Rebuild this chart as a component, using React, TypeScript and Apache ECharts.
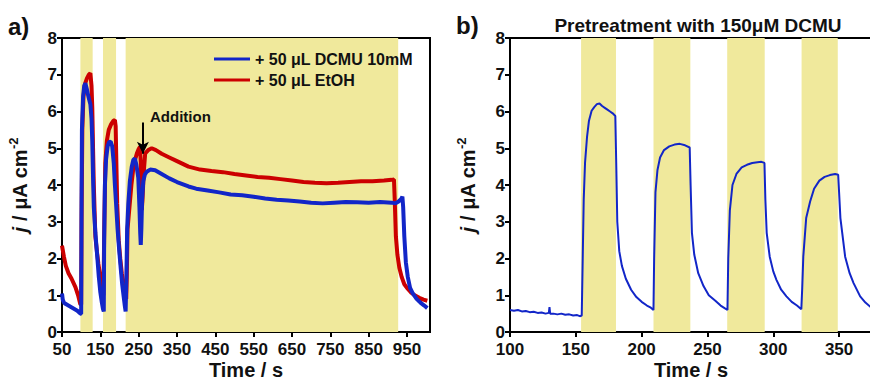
import React, { useEffect, useRef } from "react";
import * as echarts from "echarts";

// ---- Panel a) data ----
const dcmuTime = [50, 52, 55, 60, 70, 80, 90, 98, 100, 101, 102, 105, 108, 111, 115, 119, 124, 127, 129, 131, 133, 137, 142, 146, 150, 154, 157, 159, 160, 162, 165, 169, 173, 177, 181, 185, 188, 191, 195, 199, 203, 207, 211, 214, 216, 218, 220, 223, 227, 232, 236, 240, 244, 249, 252, 254, 255.5, 257, 259, 262, 266, 271, 280, 293, 310, 330, 350, 380, 400, 430, 460, 490, 520, 550, 580, 610, 640, 670, 700, 730, 760, 790, 820, 850, 880, 910, 920, 928, 935, 938, 940, 943, 947, 952, 958, 965, 975, 985, 995, 1003];
const dcmuValues = [1.05, 0.88, 0.8, 0.76, 0.7, 0.64, 0.58, 0.5, 0.5, 3.5, 5.5, 6.4, 6.7, 6.77, 6.6, 6.4, 6.2, 5.8, 5.2, 4.2, 3.4, 2.7, 2.05, 1.5, 1.08, 0.8, 0.62, 0.56, 2.5, 4.0, 4.7, 5.05, 5.17, 5.18, 5.05, 4.6, 4.0, 3.5, 2.8, 2.25, 1.75, 1.3, 0.95, 0.7, 0.56, 1.5, 2.8, 3.5, 4.1, 4.5, 4.68, 4.72, 4.55, 4.2, 3.4, 2.7, 2.37, 2.8, 3.6, 4.1, 4.28, 4.36, 4.42, 4.4, 4.3, 4.18, 4.08, 3.96, 3.9, 3.85, 3.8, 3.74, 3.72, 3.68, 3.63, 3.6, 3.58, 3.55, 3.52, 3.5, 3.52, 3.54, 3.53, 3.52, 3.54, 3.52, 3.5, 3.55, 3.62, 3.68, 3.4, 2.6, 1.9, 1.5, 1.2, 1.05, 0.9, 0.8, 0.72, 0.65];

const etohTime = [50, 55, 60, 67, 75, 85, 92, 98, 100, 101, 103, 106, 110, 115, 120, 124, 127, 129, 131, 133, 137, 141, 145, 150, 154, 158, 159, 160.5, 163, 167, 172, 178, 184, 188, 190, 192, 194, 198, 202, 206, 210, 215, 217.5, 219, 221, 226, 231, 236, 241, 246, 250, 253.5, 255.5, 257, 258, 260, 263, 267, 275, 284, 295, 310, 330, 350, 380, 410, 440, 470, 500, 530, 560, 590, 620, 650, 680, 710, 740, 770, 800, 830, 860, 890, 910, 916, 918, 921, 925, 930, 936, 943, 950, 960, 970, 982, 993, 1003];
const etohValues = [2.35, 2.05, 1.8, 1.6, 1.45, 1.22, 1.0, 0.75, 0.75, 3.0, 5.5, 6.4, 6.75, 6.9, 7.0, 7.04, 6.7, 6.1, 5.0, 4.0, 2.6, 2.2, 1.85, 1.5, 1.2, 1.0, 1.0, 3.0, 4.6, 5.2, 5.5, 5.65, 5.75, 5.77, 5.6, 4.5, 3.5, 2.5, 2.0, 1.6, 1.3, 1.0, 0.9, 1.5, 2.8, 3.4, 4.0, 4.45, 4.7, 4.88, 4.98, 5.04, 4.6, 3.8, 3.32, 3.6, 4.3, 4.86, 4.95, 5.0, 4.95, 4.85, 4.75, 4.65, 4.5, 4.42, 4.38, 4.35, 4.3, 4.26, 4.22, 4.2, 4.16, 4.12, 4.08, 4.06, 4.05, 4.06, 4.08, 4.1, 4.1, 4.12, 4.14, 4.15, 3.6, 2.6, 2.1, 1.75, 1.5, 1.3, 1.2, 1.08, 1.0, 0.93, 0.88, 0.85];

const lightA = [[98, 130], [157, 191], [216, 927]];

// ---- Panel b) data ----
const preTime = [100, 103, 106, 109, 112, 115, 118, 121, 124, 127, 129.5, 130, 130.5, 133, 136, 139, 142, 145, 148, 151, 153, 154.5, 155, 156, 157, 158.5, 160, 162, 164, 166, 168, 170, 172, 174, 176, 178, 180, 180.7, 181.5, 183, 185, 188, 192, 196, 200, 204, 207, 209, 209.5, 210.5, 212, 214, 217, 221, 225, 229, 233, 236.5, 237.2, 238.2, 240, 243, 247, 251, 256, 260, 263, 265.2, 265.8, 267, 269, 272, 276, 280, 284, 288, 291, 293.3, 294, 295, 297.3, 300, 302.4, 306, 310, 314, 318, 321.3, 322, 322.8, 325, 328, 331, 335, 339, 343, 347, 349.3, 350, 351, 354.6, 358, 361, 366, 370, 374, 376];
const preValues = [0.6, 0.58, 0.6, 0.56, 0.57, 0.54, 0.55, 0.52, 0.53, 0.5, 0.52, 0.68, 0.5, 0.5, 0.48, 0.5, 0.47, 0.48, 0.45, 0.46, 0.43, 0.45, 1.5, 3.6, 4.6, 5.3, 5.75, 6.02, 6.12, 6.2, 6.22, 6.15, 6.1, 6.05, 6.0, 5.95, 5.88, 4.6, 3.0, 2.2, 1.8, 1.45, 1.15, 0.95, 0.82, 0.72, 0.66, 0.6, 2.0, 3.8, 4.4, 4.75, 4.95, 5.05, 5.1, 5.12, 5.08, 5.02, 4.0, 2.7, 2.1, 1.6, 1.25, 1.0, 0.85, 0.72, 0.65, 0.6, 2.0, 3.3, 4.0, 4.3, 4.48, 4.55, 4.6, 4.62, 4.63, 4.6, 3.6, 2.7, 2.05, 1.65, 1.42, 1.15, 0.97, 0.82, 0.72, 0.62, 1.2, 2.05, 3.1, 3.55, 3.9, 4.12, 4.22, 4.27, 4.3, 4.28, 3.8, 3.1, 2.05, 1.6, 1.33, 0.97, 0.8, 0.68, 0.65];

const lightB = [[154, 180.5], [209, 237], [265, 293.5], [321.5, 349]];

const yTicks = [0, 8, 1];
const xTicksA = [50, 1010, 100];
const xTicksB = [100, 375, 50];

const legendNames = ["+ 50 \u03bcL DCMU 10mM", "+ 50 \u03bcL EtOH"];
const titleB = "Pretreatment with 150\u03bcM DCMU";

const BAND = "#f0e99c";
const BLUE = "#1226c8";
const RED = "#cc0000";
const FONT = "'Liberation Sans', Arial, sans-serif";

const zip = (t: number[], v: number[]) => t.map((x, i) => [x, v[i]]);

export default function App() {
  const ref = useRef<HTMLDivElement>(null);
  useEffect(() => {
    if (!ref.current) return;
    const chart = echarts.init(ref.current, undefined, { renderer: "svg" });
    const tickLabel = { color: "#111", fontFamily: FONT, fontWeight: "bold" as const, fontSize: 17, margin: 5 };
    const axisLine = { lineStyle: { color: "#000", width: 2 } };
    const axisTick = { inside: false, length: 5, lineStyle: { color: "#000", width: 2 } };
    const yName = "{i|j} / \u03bcA cm{sup|-2}";
    const nameRich = {
      i: { fontStyle: "italic", fontWeight: "bold", fontSize: 20, fontFamily: FONT, color: "#111" },
      sup: { fontSize: 13, fontWeight: "bold", fontFamily: FONT, color: "#111", verticalAlign: "top", padding: [0, 0, 12, 0] },
    };
    const yAxisCommon = (gi: number) => ({
      type: "value",
      gridIndex: gi,
      min: yTicks[0],
      max: yTicks[1],
      interval: yTicks[2],
      name: yName,
      nameLocation: "middle",
      nameGap: 30,
      nameTextStyle: { fontSize: 20, fontWeight: "bold", fontFamily: FONT, color: "#111", rich: nameRich },
      axisLine: { show: true, ...axisLine },
      axisTick,
      axisLabel: tickLabel,
      splitLine: { show: false },
    });
    const xAxisCommon = (gi: number, t: number[]) => ({
      type: "value",
      gridIndex: gi,
      min: t[0],
      max: t[1],
      interval: t[2],
      name: "Time / s",
      nameLocation: "middle",
      nameGap: 28,
      nameMoveOverlap: false,
      nameTextStyle: { fontSize: 20, fontWeight: "bold", fontFamily: FONT, color: "#111", lineHeight: 20 },
      axisLine: { show: true, onZero: false, ...axisLine },
      axisTick,
      axisLabel: { ...tickLabel, margin: 9, lineHeight: 17, showMaxLabel: false },
      splitLine: { show: false },
    });
    chart.setOption({
      animation: false,
      backgroundColor: "#fff",
      title: {
        text: titleB,
        left: 693,
        top: 11,
        textAlign: "center",
        textStyle: { fontSize: 19, fontWeight: "bold", fontFamily: FONT, color: "#111" },
      },
      legend: {
        data: legendNames,
        orient: "vertical",
        left: 209,
        top: 46,
        icon: "rect",
        itemWidth: 36,
        itemHeight: 3,
        itemGap: 5,
        textStyle: { fontSize: 16, fontWeight: "bold", fontFamily: FONT, color: "#111" },
      },
      grid: [
        { left: 62, top: 38, width: 368, height: 294, outerBoundsMode: "none", containLabel: false, show: true, borderColor: "#000", borderWidth: 2, backgroundColor: "transparent" },
        { left: 510, top: 38, width: 362, height: 294, outerBoundsMode: "none", containLabel: false, show: true, borderColor: "#000", borderWidth: 2, backgroundColor: "transparent" },
      ],
      xAxis: [xAxisCommon(0, xTicksA), xAxisCommon(1, xTicksB)],
      yAxis: [yAxisCommon(0), yAxisCommon(1)],
      graphic: [
        { type: "text", z: 100, left: 8, top: 14, style: { text: "a)", fontSize: 24, fontWeight: "bold", fontFamily: FONT, fill: "#111" } },
        { type: "text", z: 100, left: 456, top: 13, style: { text: "b)", fontSize: 24, fontWeight: "bold", fontFamily: FONT, fill: "#111" } },
        { type: "text", z: 100, left: 150, top: 109, style: { text: "Addition", fontSize: 15, fontWeight: "bold", fontFamily: FONT, fill: "#111" } },
      ],
      series: [
        {
          type: "line",
          name: "bandsA",
          xAxisIndex: 0,
          yAxisIndex: 0,
          data: [],
          z: 1,
          silent: true,
          markArea: {
            silent: true,
            itemStyle: { color: BAND, opacity: 1 },
            data: lightA.map(([a, b]) => [{ xAxis: a }, { xAxis: b }]),
          },
        },
        {
          type: "line",
          name: "bandsB",
          xAxisIndex: 1,
          yAxisIndex: 1,
          data: [],
          z: 1,
          silent: true,
          markArea: {
            silent: true,
            itemStyle: { color: BAND, opacity: 1 },
            data: lightB.map(([a, b]) => [{ xAxis: a }, { xAxis: b }]),
          },
        },
        {
          type: "line",
          name: legendNames[1],
          xAxisIndex: 0,
          yAxisIndex: 0,
          data: zip(etohTime, etohValues),
          symbol: "none",
          z: 3,
          lineStyle: { color: RED, width: 4 },
          itemStyle: { color: RED },
        },
        {
          type: "line",
          name: legendNames[0],
          xAxisIndex: 0,
          yAxisIndex: 0,
          data: zip(dcmuTime, dcmuValues),
          symbol: "none",
          z: 4,
          lineStyle: { color: BLUE, width: 4 },
          itemStyle: { color: BLUE },
          markLine: {
            silent: true,
            symbol: ["none", "arrow"],
            symbolSize: [9, 12],
            label: { show: false },
            lineStyle: { color: "#000", width: 2, type: "solid" },
            data: [[{ coord: [261, 5.7] }, { coord: [261, 4.85] }]],
          },
        },
        {
          type: "line",
          name: "pre",
          xAxisIndex: 1,
          yAxisIndex: 1,
          data: zip(preTime, preValues),
          symbol: "none",
          z: 3,
          lineStyle: { color: BLUE, width: 2 },
          itemStyle: { color: BLUE },
        },
      ],
    });
    return () => chart.dispose();
  }, []);
  return <div ref={ref} style={{ position: "fixed", left: 0, top: 0, width: 870, height: 381 }} />;
}
